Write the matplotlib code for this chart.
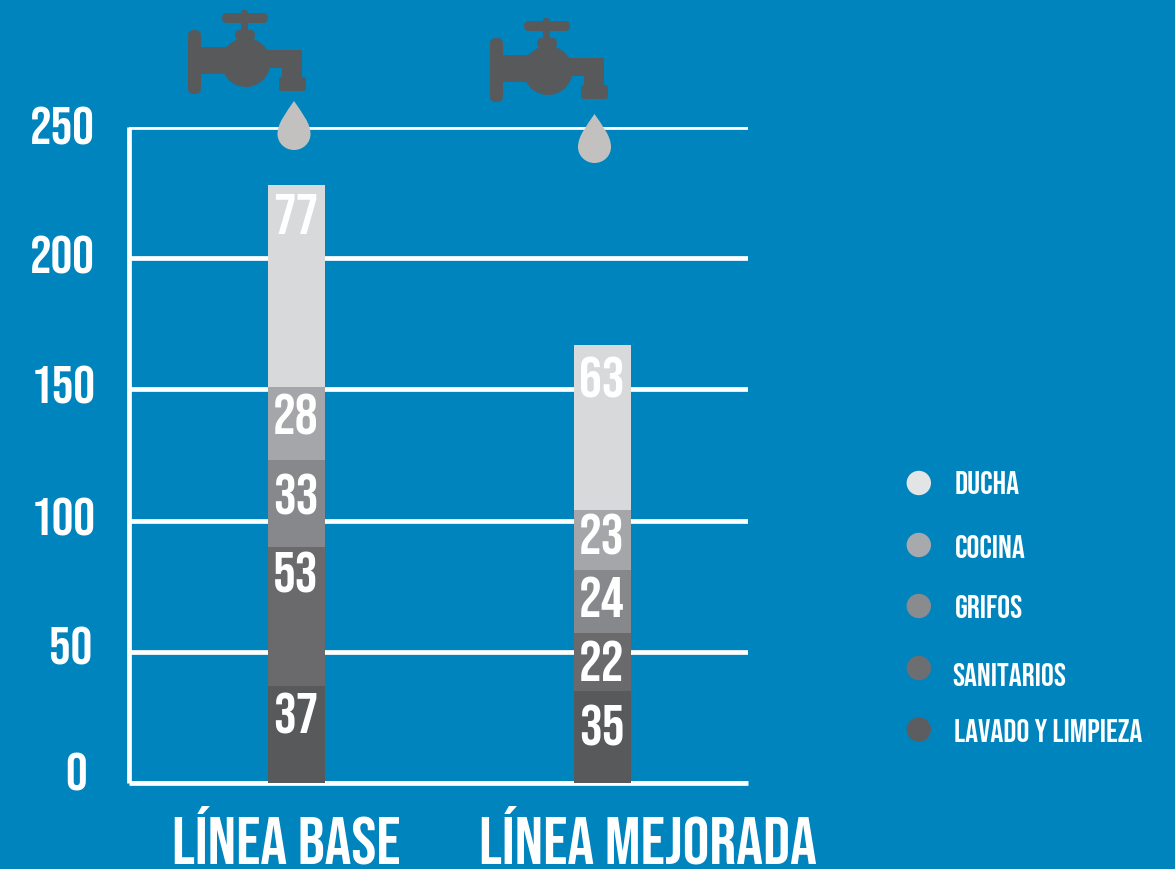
import numpy as np
import matplotlib
matplotlib.use('Agg')
import matplotlib.pyplot as plt
from matplotlib.patches import Circle, FancyBboxPatch, PathPatch, Polygon
from matplotlib.path import Path
from matplotlib.transforms import ScaledTranslation

categories = ['LÍNEA BASE', 'LÍNEA MEJORADA']
series = ['LAVADO Y LIMPIEZA', 'SANITARIOS', 'GRIFOS', 'COCINA', 'DUCHA']
lavado = [37, 35]
sanitarios = [53, 22]
grifos = [33, 24]
cocina = [28, 23]
ducha = [77, 63]
yticks = [0, 50, 100, 150, 200, 250]

colors = ['#58595b', '#6a6a6d', '#87888c', '#a5a6a9', '#d8d9db']
legend_colors = ['#5c5d60', '#6d6e71', '#8a8b8e', '#a7a9ac', '#e3e4e5']
bg = '#0084bd'
W, H = 1175, 869
font = ['Bebas Neue', 'Liberation Sans', 'DejaVu Sans']

fig = plt.figure(figsize=(W / 100, H / 100), dpi=100, facecolor=bg)
ax = fig.add_axes([128.5 / W, 1 - 783 / H, 619.5 / W, 656 / H], facecolor=bg)

values = [lavado, sanitarios, grifos, cocina, ducha]
# the numbers do not sit at the same spot in every segment, nudges in pixels
nudge = [[-2, 5], [-4, -2], [5, -3], [-1, -5], [0, 4]]
x = np.arange(len(categories))
ax.set_xlim(-0.549, 1.4755)
ax.set_ylim(0, 250)
ax.yaxis.grid(True, color='white', linewidth=3.4, zorder=1)
ax.set_axisbelow(True)
bottom = np.zeros(2)
for vals, col, nd in zip(values, colors, nudge):
    ax.bar(x, vals, 0.186, bottom=bottom, color=col, zorder=3)
    bottom = bottom + np.array(vals)
    for xi, top, v, n in zip(x, bottom, vals, nd):
        ax.annotate(str(v), (xi, top), xytext=(-0.4, -21 - n * 0.72), textcoords='offset points',
                    ha='center', va='center', color='white', fontsize=41,
                    family=font, zorder=4)

for s in ['top', 'right']:
    ax.spines[s].set_visible(False)
for s in ['left', 'bottom']:
    ax.spines[s].set_color('white')
    ax.spines[s].set_linewidth(3.4)
    ax.spines[s].set_capstyle('butt')
ax.set_xticks([])
ax.set_yticks(yticks)
ax.set_yticklabels([str(t) for t in yticks], color='white', fontsize=39, family=font)
ax.tick_params(axis='y', length=0, pad=24)

# tick labels sit a little above their lines in the original
shift_x = [-8, -3, 0, 0, 0, 0]
shift_y = [11, 6, 4, 5, 3, 1]
for lab, sx, sy in zip(ax.get_yticklabels(), shift_x, shift_y):
    lab.set_transform(lab.get_transform() + ScaledTranslation(sx / 100, sy / 100, fig.dpi_scale_trans))

# overlay in pixel coordinates for the icons, legend and big labels
ov = fig.add_axes([0, 0, 1, 1])
ov.set_xlim(0, W)
ov.set_ylim(H, 0)
ov.axis('off')
ov.patch.set_alpha(0)

ov.text(286, 835, categories[0], color='white', fontsize=48, family=font, ha='center', va='center')
ov.text(648, 835, categories[1], color='white', fontsize=48, family=font, ha='center', va='center')


def faucet(dx, dy):
    c = '#58595b'
    def rbox(x0, y0, w, h, r):
        ov.add_patch(FancyBboxPatch((x0 + dx + r, y0 + dy + r), w - 2 * r, h - 2 * r,
                                    boxstyle='round,pad=%f' % r, fc=c, ec='none'))
    rbox(188, 30, 13, 64, 6)       # flange
    rbox(195, 47, 32, 27, 1)       # inlet
    ov.add_patch(Circle((246 + dx, 62.5 + dy), 24.5, fc=c, ec='none'))
    body = [(226, 47), (238, 40), (254, 40), (267, 50), (267, 66), (226, 74)]
    ov.add_patch(Polygon([(a + dx, b + dy) for a, b in body], fc=c, ec='none'))
    rbox(235, 30, 20, 10, 5)       # gland
    rbox(241, 10, 7, 26, 3)        # stem
    rbox(222, 13, 46, 10, 5)       # handle
    rbox(258, 50, 44, 18, 2)       # spout
    rbox(282, 50, 20, 32, 2)
    rbox(279, 77, 27, 14, 3)       # nozzle


def drop(cx, top):
    verts = [(cx, top), (cx + 8, top + 12), (cx + 16.5, top + 22), (cx + 16.5, top + 33),
             (cx + 16.5, top + 42), (cx + 9, top + 49), (cx, top + 49),
             (cx - 9, top + 49), (cx - 16.5, top + 42), (cx - 16.5, top + 33),
             (cx - 16.5, top + 22), (cx - 8, top + 12), (cx, top), (cx, top)]
    codes = [Path.MOVETO] + [Path.CURVE4] * 12 + [Path.CLOSEPOLY]
    ov.add_patch(PathPatch(Path(verts, codes), fc='#c2c1bf', ec='none'))


faucet(0, 0)
faucet(302, 8)
drop(294, 101)
drop(594.5, 114)

legend_y = [483, 545, 606, 668, 729.5]
legend_x = [955, 955, 955, 952, 954]
text_y = [483, 547, 606, 675, 731]
for name, col, ly, lx, ty in zip(series[::-1], legend_colors[::-1], legend_y, legend_x, text_y):
    ov.add_patch(Circle((918.8, ly), 12.2, fc=col, ec='none'))
    ov.text(lx, ty, name, color='white', fontsize=23.2, family=font, ha='left', va='center')

fig.savefig('out.png', dpi=100, facecolor=bg)
